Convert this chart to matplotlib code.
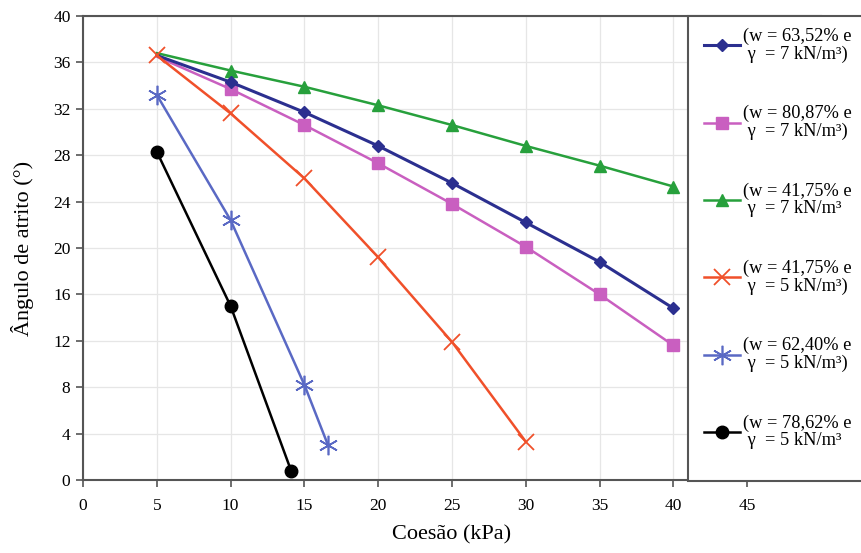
import matplotlib
matplotlib.use("Agg")
import matplotlib.pyplot as plt
from matplotlib.patches import Rectangle

plt.rcParams['font.family'] = ['Liberation Serif', 'DejaVu Serif']

# coesão (kPa) x ângulo de atrito (°) for each soil condition
c_a = [5, 10, 15, 20, 25, 30, 35, 40]
phi_a = [36.6, 34.3, 31.7, 28.8, 25.6, 22.2, 18.8, 14.8]

c_b = [5, 10, 15, 20, 25, 30, 35, 40]
phi_b = [36.5, 33.7, 30.6, 27.3, 23.8, 20.1, 16.0, 11.6]

c_c = [5, 10, 15, 20, 25, 30, 35, 40]
phi_c = [36.8, 35.3, 33.9, 32.3, 30.6, 28.8, 27.1, 25.3]

c_d = [5, 10, 15, 20, 25, 30]
phi_d = [36.6, 31.6, 26.0, 19.2, 11.9, 3.3]

c_e = [5, 10, 15, 16.6]
phi_e = [33.2, 22.4, 8.2, 3.0]

c_f = [5, 10, 14.1]
phi_f = [28.3, 15.0, 0.8]

labels = [
    "(w = 63,52% e\n γ  = 7 kN/m³)",
    "(w = 80,87% e\n γ  = 7 kN/m³)",
    "(w = 41,75% e\n γ  = 7 kN/m³",
    "(w = 41,75% e\n γ  = 5 kN/m³)",
    "(w = 62,40% e\n γ  = 5 kN/m³)",
    "(w = 78,62% e\n γ  = 5 kN/m³",
]

fig = plt.figure(figsize=(8.61, 5.53), dpi=100)
ax = fig.add_axes([83/861, 73/553, 738/861, 464/553])

skip = slice(1, None)
ax.plot(c_a, phi_a, color='#2b2f8f', lw=2.2, marker='D', ms=6.5, markevery=skip, label=labels[0], zorder=4)
ax.plot(c_b, phi_b, color='#c95fc0', lw=1.8, marker='s', ms=8.5, markevery=skip, label=labels[1], zorder=3)
ax.plot(c_c, phi_c, color='#27a03c', lw=1.8, marker='^', ms=9, markevery=skip, label=labels[2], zorder=3)
ax.plot(c_d, phi_d, color='#f0502a', lw=1.8, marker='x', ms=12, mew=1.3, label=labels[3], zorder=5)
ax.plot(c_e, phi_e, color='#5a69c4', lw=1.8, marker=(6, 2, 0), ms=14, mew=1.2, label=labels[4], zorder=3)
ax.plot(c_f, phi_f, color='black', lw=1.8, marker='o', ms=9, label=labels[5], zorder=3)

ax.set_xlim(0, 50)
ax.set_ylim(0, 40)
ax.set_xticks(range(0, 50, 5))
ax.set_yticks(range(0, 41, 4))
ax.grid(True, color='#e6e6e6', lw=0.9)
ax.set_axisbelow(True)
for side in ['left', 'bottom', 'top']:
    ax.spines[side].set_color('#555555')
    ax.spines[side].set_linewidth(1.5)
ax.spines['right'].set_visible(False)
ax.tick_params(direction='out', length=5, width=1.2, color='#555555', labelsize=12.5, pad=8)
ax.tick_params(axis='y', pad=4)

ax.set_xlabel('Coesão (kPa)', fontsize=16, labelpad=8)
ax.set_ylabel('Ângulo de atrito (°)', fontsize=16, labelpad=14)

# legend panel sitting over the right part of the plot
box = Rectangle((688/861, 72/553), 0.3, 465/553, transform=fig.transFigure,
                facecolor='white', edgecolor='#555555', lw=1.5, zorder=10)
fig.add_artist(box)
leg = fig.legend(loc='upper left', bbox_to_anchor=(687/861, 542/553), frameon=False,
                 fontsize=13.2, handlelength=2.0, handletextpad=0.15, labelspacing=2.3,
                 borderaxespad=0.5)
for t in leg.get_texts():
    t.set_linespacing(1.05)
leg.set_zorder(11)

fig.savefig('out.png', dpi=100)
